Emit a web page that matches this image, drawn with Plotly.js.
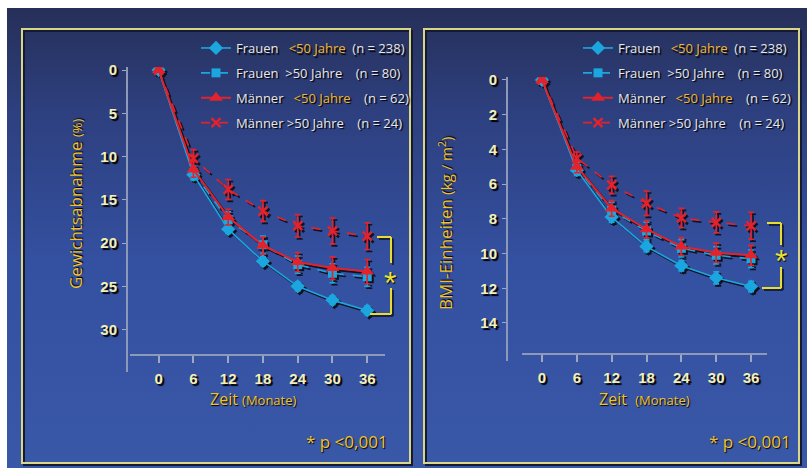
<!DOCTYPE html>
<html>
<head>
<meta charset="utf-8">
<script src="https://cdn.plot.ly/plotly-3.0.1.min.js"></script>
<style>
html,body{margin:0;padding:0;background:#fff;}
#wrap{position:relative;width:807px;height:468px;background:#fff;overflow:hidden;}
#bg{position:absolute;left:7px;top:8px;right:0;bottom:0;background:linear-gradient(to bottom,#262f58 0%,#2d3f7e 22%,#3450a0 55%,#3a58a8 100%);}
#chart{position:absolute;left:0;top:0;width:807px;height:468px;}
</style>
</head>
<body>
<div id="wrap"><div id="bg"></div><div id="chart"></div></div>
<script>
// ---- data ----
const months = [0, 6, 12, 18, 24, 30, 36];
const xTickLabels = ['0', '6', '12', '18', '24', '30', '36'];

// Gewichtsabnahme (%)
const gewFrauenU50 = [0, 12.1, 18.4, 22.1, 25.0, 26.6, 27.8];
const gewFrauenU50Err = [0, 0.5, 0.5, 0.5, 0.5, 0.5, 0.5];
const gewFrauenO50 = [0, 11.9, 17.3, 20.2, 22.5, 23.5, 23.9];
const gewFrauenO50Err = [0, 0.8, 0.9, 1.0, 1.0, 1.1, 1.1];
const gewMaennerU50 = [0, 11.5, 17.0, 20.3, 22.2, 22.9, 23.3];
const gewMaennerU50Err = [0, 0.9, 0.9, 1.0, 1.1, 1.3, 1.4];
const gewMaennerO50 = [0, 10.2, 13.8, 16.3, 18.0, 18.6, 19.2];
const gewMaennerO50Err = [0, 1.0, 1.15, 1.2, 1.3, 1.5, 1.55];
const gewTicks = [0, 5, 10, 15, 20, 25, 30];

// BMI-Einheiten (kg/m2)
const bmiFrauenU50 = [0, 5.2, 7.9, 9.6, 10.7, 11.4, 11.9];
const bmiFrauenU50Err = [0, 0.3, 0.3, 0.3, 0.3, 0.35, 0.3];
const bmiFrauenO50 = [0, 5.1, 7.5, 8.7, 9.7, 10.1, 10.3];
const bmiFrauenO50Err = [0, 0.35, 0.45, 0.5, 0.5, 0.5, 0.5];
const bmiMaennerU50 = [0, 5.0, 7.4, 8.6, 9.6, 9.95, 10.1];
const bmiMaennerU50Err = [0, 0.35, 0.45, 0.5, 0.5, 0.55, 0.57];
const bmiMaennerO50 = [0, 4.5, 6.05, 7.1, 7.95, 8.2, 8.4];
const bmiMaennerO50Err = [0, 0.35, 0.5, 0.7, 0.55, 0.6, 0.78];
const bmiTicks = [0, 2, 4, 6, 8, 10, 12, 14];

const seriesNames = [
  'Frauen&nbsp;&nbsp;&nbsp;<span style="color:#f2b62e">&lt;50 Jahre</span>&nbsp;&nbsp;(n = 238)',
  'Frauen&nbsp;&nbsp;&gt;50 Jahre&nbsp;&nbsp;&nbsp;&nbsp;(n = 80)',
  'Männer&nbsp;&nbsp;&nbsp;<span style="color:#f2b62e">&lt;50 Jahre</span>&nbsp;&nbsp;&nbsp;&nbsp;(n = 62)',
  'Männer &gt;50 Jahre&nbsp;&nbsp;&nbsp;&nbsp;(n = 24)'
];

// ---- styling ----
const W = 807, H = 468;
const fx = p => p / W;
const fy = p => 1 - p / H;
const CYAN = '#1ba6e0', RED = '#e4222c', SHADOW = '#10131f';
const styles = [
  {color: CYAN, dash: 'solid', symbol: 'diamond', size: 11, width: 1.6},
  {color: CYAN, dash: 'dash', symbol: 'square', size: 9, width: 1.6},
  {color: RED, dash: 'solid', symbol: 'triangle-up', size: 12, width: 2},
  {color: RED, dash: 'dash', symbol: 'x-thin-open', size: 9, width: 1.6}
];

function mk(y, err, i, xa, ya, shadow, legend) {
  const s = styles[i];
  const c = shadow ? SHADOW : s.color;
  return {
    type: 'scatter', mode: 'lines+markers', x: months, y: y,
    xaxis: xa, yaxis: ya,
    name: seriesNames[i],
    legend: legend || 'legend',
    legendgroup: (legend || 'l') + i,
    showlegend: !shadow,
    line: {color: c, dash: s.dash, width: s.width},
    marker: {symbol: s.symbol, size: s.size, color: c, line: {color: c, width: s.symbol === 'x-thin-open' ? 2.5 : 0}},
    error_y: {type: 'data', array: err, visible: true, color: c, thickness: 1.6, width: 3},
    hoverinfo: 'skip'
  };
}

const gew = [[gewFrauenU50, gewFrauenU50Err], [gewFrauenO50, gewFrauenO50Err], [gewMaennerU50, gewMaennerU50Err], [gewMaennerO50, gewMaennerO50Err]];
const bmi = [[bmiFrauenU50, bmiFrauenU50Err], [bmiFrauenO50, bmiFrauenO50Err], [bmiMaennerU50, bmiMaennerU50Err], [bmiMaennerO50, bmiMaennerO50Err]];

const traces = [];
gew.forEach((d, i) => traces.push(mk(d[0], d[1], i, 'x', 'y', true)));
bmi.forEach((d, i) => traces.push(mk(d[0], d[1], i, 'x2', 'y2', true)));
gew.forEach((d, i) => traces.push(mk(d[0], d[1], i, 'x3', 'y3', false, 'legend')));
bmi.forEach((d, i) => traces.push(mk(d[0], d[1], i, 'x4', 'y4', false, 'legend2')));

const tickFont = {family: 'Liberation Sans, Arial, sans-serif', size: 15, color: '#f5efb6', weight: 'bold', shadow: '2px 2px 1px #000'};
const lRangeX = [-4.95, 39.07], lRangeY = [34.91, -0.35];
const rRangeX = [-3.44, 38.75], rRangeY = [16.19, -0.17];
const hidden = {visible: false, showgrid: false, zeroline: false};

function visX(domain, range, pos) {
  return {domain: domain, range: range, anchor: 'free', position: pos, tickvals: months, ticktext: xTickLabels,
    ticks: 'outside', ticklen: 7, tickwidth: 2, tickcolor: '#9ea8c4', showline: true, linecolor: '#8d99b9', linewidth: 2,
    showgrid: false, zeroline: false, tickfont: tickFont, ticklabelstandoff: 3};
}
function visY(domain, range, pos, ticks) {
  return {domain: domain, range: range, anchor: 'free', position: pos, tickvals: ticks,
    ticks: 'outside', ticklen: 4, tickwidth: 1, tickcolor: '#9ea8c4', showline: true, linecolor: '#8d99b9', linewidth: 2,
    showgrid: false, zeroline: false, tickfont: tickFont, ticklabelstandoff: 2};
}

const legendFont = {family: 'Open Sans, sans-serif', size: 13, color: '#e6e6e6', shadow: '1.5px 1.5px 1px #000'};
const SH = 2;
const layout = {
  width: W, height: H, margin: {l: 0, r: 0, t: 0, b: 0},
  paper_bgcolor: 'rgba(0,0,0,0)', plot_bgcolor: 'rgba(0,0,0,0)',
  showlegend: true,
  xaxis: Object.assign({domain: [fx(130 + SH), fx(385 + SH)], range: lRangeX, anchor: 'y'}, hidden),
  yaxis: Object.assign({domain: [fy(372 + SH), fy(67 + SH)], range: lRangeY, anchor: 'x'}, hidden),
  xaxis2: Object.assign({domain: [fx(522 + SH), fx(767 + SH)], range: rRangeX, anchor: 'y2'}, hidden),
  yaxis2: Object.assign({domain: [fy(361 + SH), fy(77 + SH)], range: rRangeY, anchor: 'x2'}, hidden),
  xaxis3: visX([fx(130), fx(385)], lRangeX, fy(355)),
  yaxis3: visY([fy(372), fy(67)], lRangeY, fx(127), gewTicks),
  xaxis4: visX([fx(522), fx(767)], rRangeX, fy(354)),
  yaxis4: visY([fy(361), fy(77)], rRangeY, fx(507), bmiTicks),
  legend: {x: fx(196), y: fy(33), xanchor: 'left', yanchor: 'top', bgcolor: 'rgba(0,0,0,0)', borderwidth: 0,
    font: legendFont, tracegroupgap: 5, itemwidth: 30, traceorder: 'grouped'},
  legend2: {x: fx(578), y: fy(33), xanchor: 'left', yanchor: 'top', bgcolor: 'rgba(0,0,0,0)', borderwidth: 0,
    font: legendFont, tracegroupgap: 5, itemwidth: 30, traceorder: 'grouped'},
  shapes: [],
  annotations: []
};

// frames
function frame(x0, y0, x1, y1) {
  layout.shapes.push({type: 'rect', xref: 'paper', yref: 'paper', x0: fx(x0 + 2), x1: fx(x1 + 2), y0: fy(y1 + 2), y1: fy(y0 + 2), line: {color: '#141a33', width: 2}, layer: 'below'});
  layout.shapes.push({type: 'rect', xref: 'paper', yref: 'paper', x0: fx(x0), x1: fx(x1), y0: fy(y1), y1: fy(y0), line: {color: '#d9d68a', width: 2}, layer: 'below'});
}
frame(22, 29, 410, 463);
frame(424, 29, 799, 463);

// significance brackets
function bracket(xl1, xl2, xr, yt, yg1, yg2, yb, sx, sy) {
  const segs = [[xl1, yt, xr, yt], [xr, yt, xr, yg1], [xr, yg2, xr, yb], [xl2, yb, xr, yb]];
  segs.forEach(s => layout.shapes.push({type: 'line', xref: 'paper', yref: 'paper', x0: fx(s[0] + 2), y0: fy(s[1] + 2), x1: fx(s[2] + 2), y1: fy(s[3] + 2), line: {color: '#1a2040', width: 2}}));
  segs.forEach(s => layout.shapes.push({type: 'line', xref: 'paper', yref: 'paper', x0: fx(s[0]), y0: fy(s[1]), x1: fx(s[2]), y1: fy(s[3]), line: {color: '#e6dc32', width: 2}}));
  layout.annotations.push({xref: 'paper', yref: 'paper', x: fx(sx), y: fy(sy), text: '*', showarrow: false,
    font: {family: 'Liberation Sans, Arial', size: 32, color: '#e8e03a', shadow: '1px 1px 1px #000'}, xanchor: 'center', yanchor: 'middle'});
}
bracket(377, 370, 391, 237, 263, 288, 314, 390, 283);
bracket(767, 762, 781, 223, 245, 267, 288, 781, 261);

// axis titles and notes
const yel = '#f0c230';
function ann(x, y, text, size, angle) {
  layout.annotations.push({xref: 'paper', yref: 'paper', x: fx(x), y: fy(y), text: text, showarrow: false, textangle: angle || 0,
    xanchor: 'center', yanchor: 'middle', font: {family: 'Open Sans, sans-serif', size: size, color: yel, shadow: '1px 1px 1px #000'}});
}
ann(75, 204, 'Gewichtsabnahme <span style="font-size:13px">(%)</span>', 17, -90);
ann(445, 224, 'BMI-Einheiten <span style="font-size:15px">(kg / m<sup>2</sup>)</span>', 17, -90);
ann(254, 399, 'Zeit <span style="font-size:13px">(Monate)</span>', 16);
ann(644, 399, 'Zeit&nbsp;&nbsp;<span style="font-size:13px">(Monate)</span>', 16);
ann(347, 441, '* p &lt;0,001', 17);
ann(750, 441, '* p &lt;0,001', 17);

Plotly.newPlot('chart', traces, layout, {staticPlot: true, displayModeBar: false});
</script>
</body>
</html>
